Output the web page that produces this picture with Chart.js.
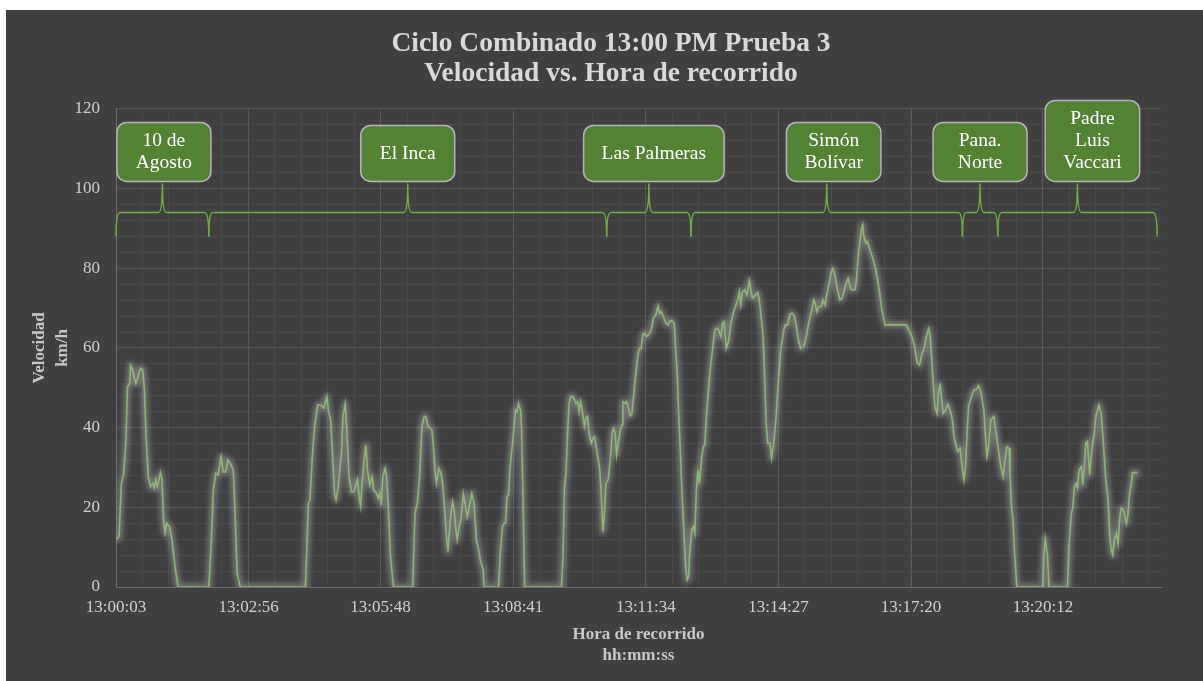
<!DOCTYPE html>
<html lang="es">
<head>
<meta charset="utf-8">
<title>Ciclo Combinado 13:00 PM Prueba 3</title>
<script src="https://cdn.jsdelivr.net/npm/chart.js@4.4.1/dist/chart.umd.min.js"></script>
<style>
  html, body { margin: 0; padding: 0; background: #ffffff; }
  #marco { position: absolute; left: 6px; top: 10px; width: 1197px; height: 671px; background: #404040; }
</style>
</head>
<body>
<div id="marco"><canvas id="grafico" width="1197" height="671"></canvas></div>
<script>
// Etiquetas del eje horizontal (hh:mm:ss)
const etiquetasHora = ['13:00:03', '13:02:56', '13:05:48', '13:08:41', '13:11:34', '13:14:27', '13:17:20', '13:20:12'];

// Segundos desde 13:00:03 y velocidad registrada (km/h)
const segundos = [
  0, 4, 7, 10, 13, 15, 18, 19, 21, 24,
  26, 29, 32, 35, 37, 39, 42, 45, 48, 50,
  52, 54, 58, 60, 62, 64, 66, 70, 73, 77,
  81, 121, 124, 127, 130, 133, 137, 140, 143, 146,
  149, 153, 155, 158, 162, 247, 249, 251, 253, 256,
  259, 263, 267, 271, 275,
  277, 280, 283, 285, 287, 290, 294, 296, 299, 301,
  304, 307, 310, 315, 317, 319, 321, 324, 326, 328,
  331, 334, 336, 340, 342, 344, 346, 348, 351, 353,
  355, 358, 362, 387, 390, 393, 396, 399, 402, 404,
  407, 410, 412, 414, 416, 418, 421, 424, 426, 428,
  431, 433, 436, 439, 441, 443, 445, 448, 450, 453,
  456, 458, 461, 464, 467, 470, 473, 475, 479, 480,
  499, 501, 504, 506, 508, 510, 512, 514, 518, 521,
  523, 525, 528, 529, 531, 533, 581,
  583, 585, 587, 589, 591, 593, 596, 600, 602, 604,
  606, 608, 611, 613, 615, 617, 620, 622, 624, 627,
  631, 633, 635, 637, 639, 642, 645, 647, 649, 651,
  653, 655, 658, 660, 661, 664, 666, 669, 671, 673,
  675, 678, 681, 683, 685, 687, 689, 692, 695, 698,
  701, 704, 707, 709, 711, 714, 717, 720, 722, 725,
  728, 730, 732, 734, 736, 738, 741, 743, 745, 747,
  748, 751, 753, 755, 757, 759, 761, 764, 766, 768,
  770, 772, 775, 778, 781, 783, 786, 789, 791, 793,
  796, 799, 802, 805, 810, 812,
  813, 815, 817, 820, 823, 826, 828, 830, 834, 837,
  839, 841, 844, 846, 848, 850, 853, 855, 858, 861,
  864, 867, 871, 873, 876, 879, 882, 885, 887, 890,
  893, 897, 900, 903, 907, 910, 912, 914, 917, 920,
  922, 925, 927, 931, 933, 935, 938, 941, 944, 947,
  950, 953, 955, 957, 959, 964, 966, 968, 970, 972,
  974, 975, 978, 980, 982, 984, 987, 990, 993, 996,
  999, 1003, 1031,
  1035, 1039, 1042, 1045, 1048, 1051, 1054, 1057, 1060, 1062,
  1064, 1066, 1068, 1071, 1073, 1075, 1077, 1079, 1082, 1085,
  1088, 1091, 1093, 1096, 1098, 1101, 1103, 1106, 1108, 1110,
  1112, 1115, 1119, 1122, 1125, 1128, 1132, 1134, 1136, 1138,
  1141, 1145, 1148, 1151, 1154, 1157, 1159, 1162, 1165, 1166,
  1168, 1170, 1172, 1175, 1209, 1210, 1212, 1215, 1217, 1241,
  1243, 1246, 1248, 1250, 1252, 1254, 1256, 1259, 1261, 1263,
  1265, 1267, 1270, 1272, 1274, 1276, 1278, 1282, 1285, 1287,
  1289, 1291, 1294, 1296, 1298, 1300, 1302, 1305, 1307, 1309,
  1311, 1314, 1318, 1320, 1322, 1324, 1326, 1332
];

const velocidad = [
  12.0, 12.6, 26.0, 28.5, 36.9, 50.3, 51.1, 55.7, 54.9, 52.4,
  51.1, 53.2, 54.9, 54.5, 49.5, 38.6, 27.7, 25.2, 26.0, 24.8,
  26.9, 25.2, 28.7, 26.9, 16.8, 13.6, 16.0, 15.1, 11.8, 5.1,
  0, 0, 10.1, 24.3, 28.5, 28.1, 32.7, 28.9, 28.9, 31.9,
  31.0, 29.4, 20.2, 3.4, 0, 0, 10.1, 21.0, 21.8, 32.7,
  40.2, 45.7, 45.7, 44.9, 47.8,
  44.4, 41.9, 31.0, 23.5, 21.9, 25.2, 33.6, 42.8, 46.1, 39.4,
  27.7, 23.9, 23.9, 26.9, 22.7, 20.2, 26.0, 32.7, 35.6, 29.4,
  25.6, 27.7, 24.4, 23.5, 22.3, 23.5, 20.6, 27.7, 29.8, 27.7,
  21.0, 7.6, 0, 0, 18.5, 21.0, 27.7, 40.3, 42.8, 42.8,
  40.3, 39.8, 39.4, 35.2, 29.4, 26.0, 29.8, 28.5, 26.0, 21.0,
  12.6, 8.9, 16.8, 21.4, 19.3, 15.1, 11.8, 15.6, 16.8, 23.5,
  20.2, 17.6, 20.2, 23.5, 21.0, 11.8, 9.3, 6.8, 4.3, 0,
  0, 7.6, 15.1, 16.0, 16.0, 22.7, 23.1, 30.2, 37.7, 44.4,
  44.0, 46.1, 44.0, 39.4, 21.0, 0, 0,
  7.6, 25.2, 29.0, 38.6, 46.1, 47.8, 47.8, 46.1, 46.5, 44.0,
  46.5, 44.4, 40.3, 42.3, 42.8, 38.6, 36.1, 37.3, 37.7, 34.4,
  29.4, 22.7, 13.9, 18.5, 26.0, 26.9, 32.7, 38.6, 39.8, 38.6,
  33.2, 36.1, 39.4, 40.7, 46.5, 46.1, 46.5, 44.4, 43.0, 43.6,
  47.8, 53.7, 58.7, 59.9, 59.9, 63.3, 63.7, 62.9, 63.3, 64.5,
  67.5, 68.3, 70.6, 68.7, 69.1, 67.9, 66.2, 65.8, 66.6, 66.9,
  66.2, 59.5, 53.7, 42.8, 34.4, 24.4, 12.6, 5.1, 1.8, 2.6,
  7.6, 14.3, 15.2, 13.5, 24.4, 29.4, 26.0, 32.7, 35.2, 35.7,
  42.8, 47.8, 54.5, 59.5, 64.5, 65.0, 64.5, 62.9, 66.2, 66.6,
  59.9, 61.6, 66.2, 68.7, 71.6, 72.9,
  74.1, 70.8, 74.1, 74.6, 73.3, 76.9, 74.6, 72.5, 73.3, 73.9,
  72.1, 68.7, 62.9, 52.8, 41.1, 36.1, 36.1, 32.3, 36.1, 42.8,
  52.0, 59.5, 64.5, 65.8, 65.8, 68.5, 68.7, 67.9, 65.8, 62.0,
  59.9, 60.3, 62.4, 65.8, 69.1, 72.1, 71.2, 69.1, 70.4, 70.4,
  72.1, 70.8, 73.3, 77.1, 79.2, 80.0, 77.9, 74.6, 72.1, 72.5,
  74.6, 76.7, 77.5, 75.8, 74.6, 74.6, 77.5, 82.9, 86.3, 89.6,
  90.9, 88.4, 86.3, 86.7, 85.4, 84.2, 82.5, 80.4, 77.5, 73.7,
  69.5, 65.8, 65.8,
  64.1, 62.4, 59.9, 56.2, 55.7, 58.3, 59.9, 62.9, 64.9, 62.9,
  57.0, 51.1, 45.3, 43.6, 49.5, 50.7, 46.9, 43.6, 44.4, 45.9,
  44.4, 41.9, 37.7, 35.2, 34.0, 34.8, 31.1, 26.9, 30.2, 38.6,
  45.3, 47.4, 49.5, 49.5, 50.5, 49.1, 44.4, 37.7, 32.7, 35.2,
  41.9, 42.8, 38.6, 34.4, 30.2, 27.7, 31.1, 35.2, 34.8, 28.5,
  20.2, 16.8, 8.5, 0, 0, 7.6, 12.2, 7.6, 0, 0,
  10.1, 18.5, 19.8, 25.2, 26.0, 24.8, 29.4, 30.2, 25.6, 30.2,
  36.1, 36.5, 28.1, 32.7, 36.1, 38.6, 42.8, 45.7, 43.6, 38.6,
  32.7, 26.9, 21.8, 13.5, 9.3, 8.0, 11.8, 13.5, 10.9, 16.8,
  19.8, 19.3, 16.0, 18.5, 23.5, 25.6, 28.7, 28.7
];

// Tramos del recorrido (avenidas) y sus límites en segundos
const tramos = [['10 de', 'Agosto'], ['El Inca'], ['Las Palmeras'], ['Simón', 'Bolívar'], ['Pana.', 'Norte'], ['Padre', 'Luis', 'Vaccari']];
const limitesTramos = [0, 121, 640, 750, 1104, 1150, 1358];

const aSegundos = h => { const [hh, mm, ss] = h.split(':').map(Number); return hh * 3600 + mm * 60 + ss; };
const posicionesHora = etiquetasHora.map(h => aSegundos(h) - aSegundos(etiquetasHora[0]));
const finEje = 1363;
const serif = 'Liberation Serif';
const puntos = segundos.map((s, i) => ({ x: s, y: velocidad[i] }));

// El primer conjunto (halo) se dibuja desenfocado bajo la línea verde
const resplandor = {
  id: 'resplandor',
  beforeDatasetDraw(chart, args, opts) {
    if (args.index !== 0) return;
    chart.ctx.save();
    chart.ctx.filter = 'blur(' + opts.blur + 'px)';
  },
  afterDatasetDraw(chart, args) {
    if (args.index === 0) chart.ctx.restore();
  }
};

// Llaves y recuadros con el nombre de cada tramo
const rotulosTramos = {
  id: 'rotulosTramos',
  afterDatasetsDraw(chart, args, opts) {
    const { ctx, scales: { x, y } } = chart;
    const yPunta = y.getPixelForValue(opts.nivelPunta);
    const yBarra = y.getPixelForValue(opts.nivelBarra);
    const yPico = y.getPixelForValue(opts.nivelPico);
    const r = 4;
    ctx.save();
    tramos.forEach((lineas, i) => {
      const x0 = x.getPixelForValue(limitesTramos[i]);
      const x1 = x.getPixelForValue(limitesTramos[i + 1]);
      const xm = (x0 + x1) / 2;

      ctx.strokeStyle = opts.colorLlave;
      ctx.lineWidth = 1.5;
      ctx.beginPath();
      ctx.moveTo(x0, yPunta);
      ctx.quadraticCurveTo(x0, yBarra, x0 + r, yBarra);
      ctx.lineTo(xm - r, yBarra);
      ctx.quadraticCurveTo(xm, yBarra, xm, yPico);
      ctx.quadraticCurveTo(xm, yBarra, xm + r, yBarra);
      ctx.lineTo(x1 - r, yBarra);
      ctx.quadraticCurveTo(x1, yBarra, x1, yPunta);
      ctx.stroke();

      ctx.font = '19.5px "' + serif + '"';
      const anchoTexto = Math.max(...lineas.map(l => ctx.measureText(l).width));
      const ancho = Math.max(94, anchoTexto + 36);
      const alto = Math.max(56, lineas.length * 22 + 15);
      const cx = xm + opts.desplazamiento[i];
      const abajo = yPico - 2;
      ctx.beginPath();
      ctx.roundRect(cx - ancho / 2, abajo - alto, ancho, alto, 10);
      ctx.fillStyle = opts.relleno;
      ctx.fill();
      ctx.strokeStyle = opts.borde;
      ctx.lineWidth = 1.5;
      ctx.stroke();

      ctx.fillStyle = '#ffffff';
      ctx.textAlign = 'center';
      ctx.textBaseline = 'middle';
      const yc = abajo - alto / 2 - (lineas.length - 1) * 11;
      lineas.forEach((l, k) => ctx.fillText(l, cx, yc + k * 22));
    });
    ctx.restore();
  }
};

const ctx = document.getElementById('grafico').getContext('2d');
new Chart(ctx, {
  type: 'line',
  data: {
    datasets: [{
      data: puntos,
      borderColor: 'rgba(200, 200, 200, 0.38)',
      borderWidth: 7,
      borderJoinStyle: 'round',
      borderCapStyle: 'round',
      pointRadius: 0,
      tension: 0,
      fill: false
    }, {
      data: puntos,
      borderColor: '#70ad47',
      borderWidth: 1.6,
      pointRadius: 0,
      tension: 0,
      fill: false
    }]
  },
  options: {
    responsive: false,
    animation: false,
    layout: { padding: { left: 13, right: 0, top: 0, bottom: 0 } },
    plugins: {
      legend: { display: false },
      tooltip: { enabled: false },
      title: {
        display: true,
        text: ['Ciclo Combinado 13:00 PM Prueba 3', 'Velocidad vs. Hora de recorrido'],
        color: '#d9d9d9',
        font: { family: serif, size: 27.5, weight: 'bold', lineHeight: 1.09 },
        padding: { top: 19, bottom: 20 }
      },
      resplandor: { blur: 2.5 },
      rotulosTramos: {
        nivelPunta: 88, nivelBarra: 94, nivelPico: 101.3,
        colorLlave: '#70ad47', relleno: '#548235', borde: '#b4b4b4',
        desplazamiento: [1.5, 0, 5, 7, 0, 15]
      }
    },
    scales: {
      xMenor: {
        type: 'linear', position: 'bottom', min: 0, max: finEje, z: -1,
        grid: { color: '#4b4b4b', drawTicks: false },
        border: { display: false },
        ticks: { display: false },
        afterBuildTicks: s => {
          const paso = posicionesHora[posicionesHora.length - 1] / 35;
          s.ticks = Array.from({ length: Math.floor(finEje / paso) + 1 }, (_, i) => ({ value: i * paso }));
        }
      },
      yMenor: {
        type: 'linear', position: 'right', min: 0, max: 120, z: -1,
        grid: { color: '#4b4b4b', drawTicks: false },
        border: { display: false },
        ticks: { display: false, stepSize: 4 },
        afterFit: s => { s.width = 42; }
      },
      x: {
        type: 'linear', position: 'bottom', min: 0, max: finEje,
        grid: { color: '#5a5a5a', drawTicks: false },
        border: { color: '#6e6e6e', width: 1 },
        afterBuildTicks: s => { s.ticks = posicionesHora.map(v => ({ value: v })); },
        afterFit: s => { s.height = 94; },
        ticks: {
          autoSkip: false, maxRotation: 0, padding: 10,
          color: '#d0d0d0',
          font: { family: serif, size: 17 },
          callback: (v, i) => etiquetasHora[i]
        },
        title: {
          display: true,
          text: ['Hora de recorrido', 'hh:mm:ss'],
          color: '#c8c8c8',
          font: { family: serif, size: 17, weight: 'bold', lineHeight: 1.235 },
          padding: { top: 6, bottom: 15 }
        }
      },
      y: {
        type: 'linear', position: 'left', min: 0, max: 120,
        grid: { color: '#5a5a5a', drawTicks: false },
        border: { color: '#6e6e6e', width: 1 },
        afterFit: s => { s.width = 97; },
        ticks: {
          stepSize: 20, padding: 16,
          color: '#d0d0d0',
          font: { family: serif, size: 17 }
        },
        title: {
          display: true,
          text: ['Velocidad', 'km/h'],
          color: '#c8c8c8',
          font: { family: serif, size: 17, weight: 'bold', lineHeight: 1.35 },
          padding: { top: 9, bottom: 0 }
        }
      }
    }
  },
  plugins: [resplandor, rotulosTramos]
});
</script>
</body>
</html>
